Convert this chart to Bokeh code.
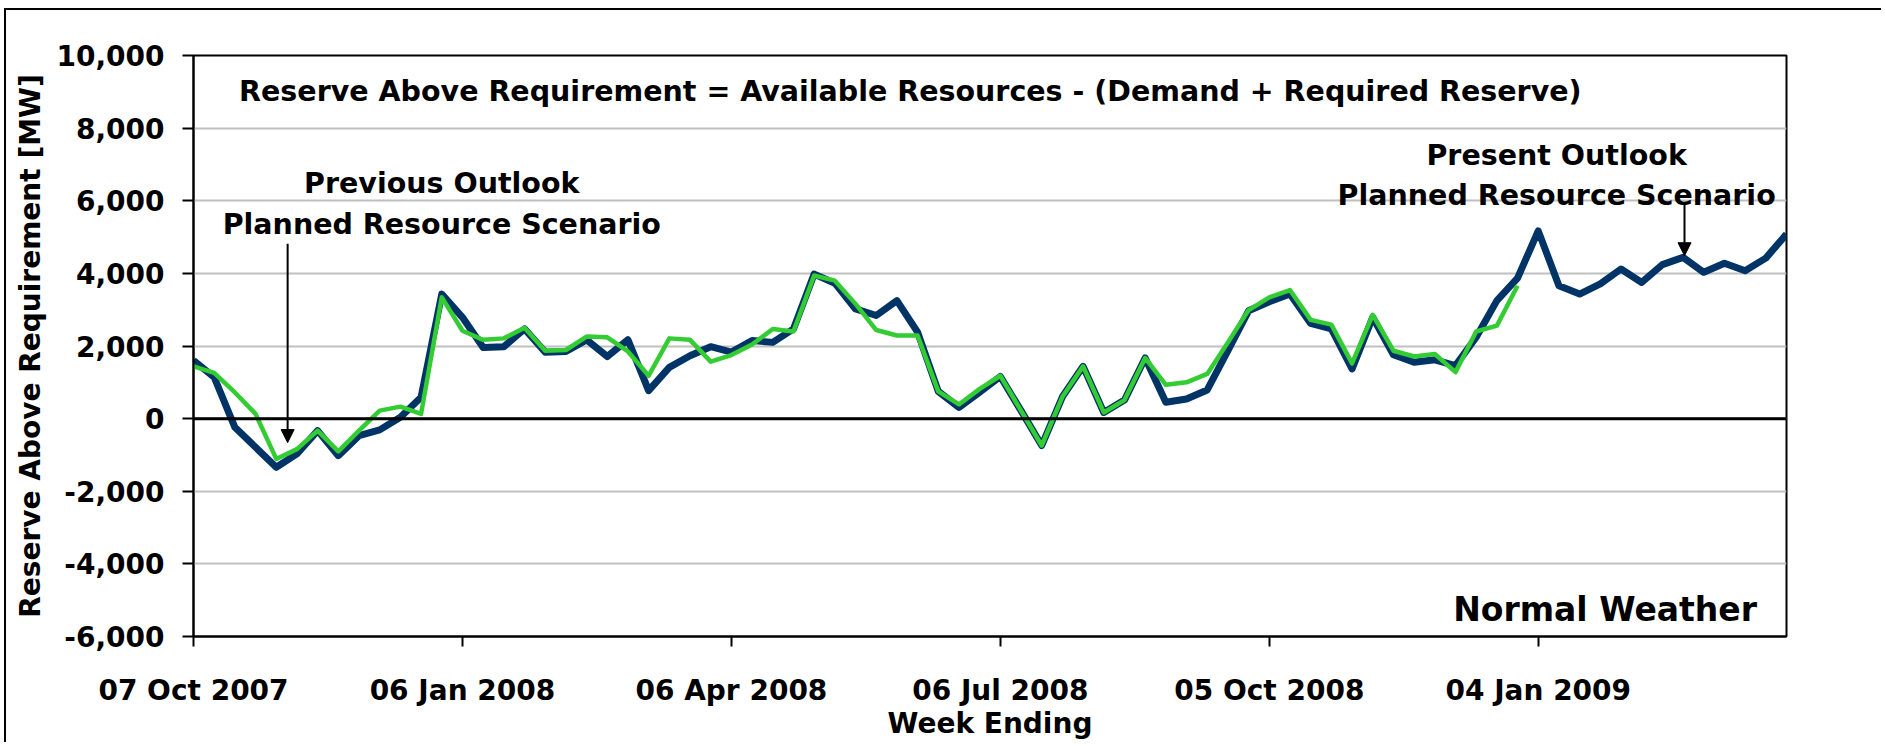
import pandas as pd
from bokeh.plotting import figure
from bokeh.models import (Range1d, FixedTicker, DatetimeTickFormatter, NumeralTickFormatter,
                          Span, Label, Arrow, NormalHead)
from bokeh.embed import file_html
from bokeh.resources import INLINE

# ---------------- data ----------------
start_week = "2007-10-07"
n_present = 78
present_outlook = [1600, 1140, -240, -790, -1340, -970, -330, -1020, -470, -310,
                   40, 590, 3430, 2790, 1960, 1980, 2470, 1830, 1850, 2170,
                   1710, 2170, 770, 1410, 1730, 1980, 1830, 2150, 2100, 2470,
                   3980, 3730, 3020, 2840, 3250, 2380, 750, 310, 730, 1160,
                   220, -740, 600, 1440, 170, 510, 1670, 450, 540, 790,
                   1870, 2970, 3220, 3430, 2620, 2470, 1370, 2790, 1760, 1550,
                   1620, 1460, 2240, 3250, 3870, 5170, 3660, 3430, 3710, 4120,
                   3750, 4240, 4440, 4030, 4280, 4070, 4420, 5080]
previous_outlook = [1440, 1260, 720, 130, -1110, -840, -330, -900, -330, 220,
                    330, 130, 3340, 2420, 2170, 2210, 2500, 1870, 1890, 2260,
                    2240, 1850, 1180, 2210, 2170, 1570, 1750, 2040, 2470, 2400,
                    3940, 3800, 3160, 2440, 2290, 2290, 750, 390, 820, 1180,
                    220, -740, 600, 1440, 170, 510, 1670, 930, 1000, 1230,
                    2100, 2990, 3340, 3540, 2720, 2590, 1520, 2860, 1870, 1710,
                    1780, 1280, 2400, 2560, 3660]
tick_dates = ["2007-10-07", "2008-01-06", "2008-04-06", "2008-07-06", "2008-10-05", "2009-01-04"]
y_ticks = [-6000, -4000, -2000, 0, 2000, 4000, 6000, 8000, 10000]

weeks = pd.date_range(start_week, periods=n_present, freq="7D")
weeks_prev = weeks[:len(previous_outlook)]

FONT = "DejaVu Sans"
DARK = "#003366"
GREEN = "#33CC33"


def wk(w):
    return pd.Timestamp(start_week) + pd.Timedelta(weeks=w)


p = figure(width=1877, height=734, output_backend="svg", toolbar_location=None,
           x_axis_type="datetime",
           x_range=Range1d(weeks[0], weeks[-1]), y_range=Range1d(-6000, 10000),
           min_border_left=187, min_border_right=97, min_border_top=45, min_border_bottom=108)
p.styles = {"margin-left": "4px", "margin-top": "8px",
            "border-top": "2px solid black", "border-left": "2px solid black"}
p.background_fill_color = "white"
p.border_fill_color = "white"
p.outline_line_color = "black"
p.outline_line_width = 2

# grid
p.xgrid.grid_line_color = None
p.ygrid.grid_line_color = "#C0C0C0"
p.ygrid.grid_line_width = 2

# y axis
p.yaxis.ticker = FixedTicker(ticks=y_ticks)
p.yaxis.formatter = NumeralTickFormatter(format="0,0")
p.yaxis.axis_label = "Reserve Above Requirement [MW]"
# x axis
p.xaxis.ticker = FixedTicker(ticks=[pd.Timestamp(d).value / 1e6 for d in tick_dates])
fmt = "%d %b %Y"
p.xaxis.formatter = DatetimeTickFormatter(microseconds=fmt, milliseconds=fmt, seconds=fmt,
                                          minsec=fmt, minutes=fmt, hourmin=fmt, hours=fmt,
                                          days=fmt, months=fmt, years=fmt)
p.xaxis.axis_label = "Week Ending"

for ax in (p.xaxis[0], p.yaxis[0]):
    ax.axis_line_color = "black"
    ax.axis_line_width = 2
    ax.major_tick_line_color = "black"
    ax.major_tick_line_width = 2
    ax.major_tick_in = 0
    ax.minor_tick_line_color = None
    ax.major_label_text_font = FONT
    ax.major_label_text_font_style = "bold"
    ax.major_label_text_font_size = "28px"
    ax.major_label_text_color = "black"
    ax.axis_label_text_font = FONT
    ax.axis_label_text_font_style = "bold"
    ax.axis_label_text_font_size = "28px"
    ax.axis_label_text_color = "black"

p.yaxis.major_tick_out = 11
p.yaxis.major_label_standoff = 18
p.yaxis.axis_label_standoff = 6
p.xaxis.major_tick_out = 10
p.xaxis.major_label_standoff = 27
p.xaxis.axis_label_standoff = -3

# zero line
p.add_layout(Span(location=0, dimension="width", line_color="black", line_width=3))

# series
p.line(weeks, present_outlook, line_color=DARK, line_width=7, line_join="round")
p.line(weeks_prev, previous_outlook, line_color=GREEN, line_width=4.5, line_join="round")

# annotations
def lab(x, y, text, size="28.5px"):
    p.add_layout(Label(x=x, y=y, text=text, text_font=FONT, text_font_style="bold",
                       text_font_size=size, text_color="black",
                       text_align="center", text_baseline="middle"))

lab(wk(34.65), 9013, "Reserve Above Requirement = Available Resources - (Demand + Required Reserve)")
lab(wk(12.0), 6484, "Previous Outlook")
lab(wk(12.0), 5339, "Planned Resource Scenario")
lab(wk(65.89), 7238, "Present Outlook")
lab(wk(65.89), 6137, "Planned Resource Scenario")
lab(wk(68.23), -5245, "Normal Weather", size="33px")

p.add_layout(Arrow(x_start=wk(4.55), y_start=4816, x_end=wk(4.55), y_end=-660,
                   line_color="black", line_width=2,
                   end=NormalHead(size=13, fill_color="black", line_color="black")))
p.add_layout(Arrow(x_start=wk(72.07), y_start=5944, x_end=wk(72.07), y_end=4486,
                   line_color="black", line_width=2,
                   end=NormalHead(size=13, fill_color="black", line_color="black")))

open("out.html", "w").write(file_html(p, INLINE))
